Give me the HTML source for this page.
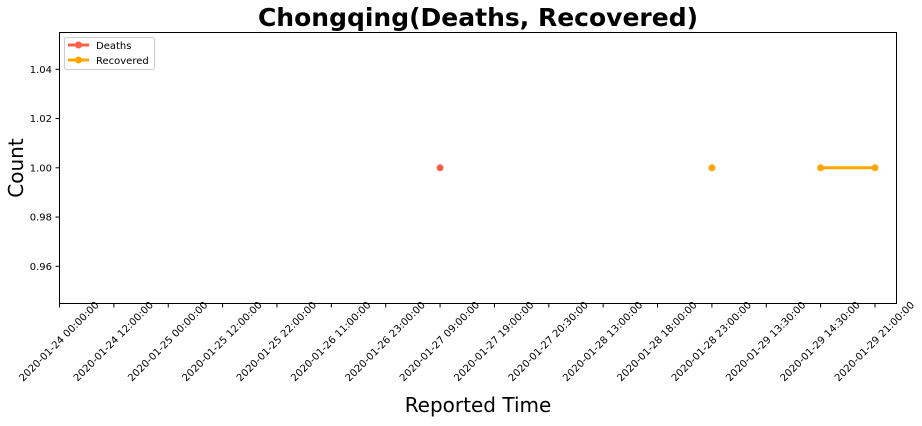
<!DOCTYPE html>
<html><head><meta charset="utf-8"><style>
body{margin:0;background:#fff;font-family:"DejaVu Sans","Liberation Sans",sans-serif}
svg text{font-family:"DejaVu Sans","Liberation Sans",sans-serif}
</style></head><body>
<svg id="c" width="922" height="422" xmlns="http://www.w3.org/2000/svg">
<rect width="922" height="422" fill="#fff"/>
<text x="478" y="26" text-anchor="middle" font-size="25" font-weight="bold">Chongqing(Deaths, Recovered)</text>
<text x="478" y="412" text-anchor="middle" font-size="20">Reported Time</text>
<text transform="translate(23,168) rotate(-90)" text-anchor="middle" font-size="20">Count</text>
<g id="ax"></g>
<g id="marks"></g>
<rect x="59.5" y="32.5" width="837" height="271" fill="none" stroke="#000" stroke-width="1"/>
<g>
<rect x="64.5" y="37.5" width="90" height="32" rx="2" fill="#fff" stroke="#ccc"/>
<g><line x1="68" y1="45" x2="89" y2="45" stroke="#ff5e47" stroke-width="3"/><circle cx="78.5" cy="45" r="3.5" fill="#ff5e47"/><text x="96" y="49" font-size="10">Deaths</text></g>
<g><line x1="68" y1="60" x2="89" y2="60" stroke="#ffa500" stroke-width="3"/><circle cx="78.5" cy="60" r="3.5" fill="#ffa500"/><text x="96" y="64" font-size="10">Recovered</text></g>
</g>
</svg>
<script>
const categories=["2020-01-24 00:00:00","2020-01-24 12:00:00","2020-01-25 00:00:00","2020-01-25 12:00:00","2020-01-25 22:00:00","2020-01-26 11:00:00","2020-01-26 23:00:00","2020-01-27 09:00:00","2020-01-27 19:00:00","2020-01-27 20:30:00","2020-01-28 13:00:00","2020-01-28 18:00:00","2020-01-28 23:00:00","2020-01-29 13:30:00","2020-01-29 14:30:00","2020-01-29 21:00:00"];
const deaths=[null,null,null,null,null,null,null,1,null,null,null,null,null,null,null,null];
const recovered=[null,null,null,null,null,null,null,null,null,null,null,null,1,null,1,1];
const yTicks=[0.96,0.98,1.00,1.02,1.04];
const NS="http://www.w3.org/2000/svg";
const xs=i=>59.5+i*(875-59.5)/15;
const ys=v=>167.8-(v-1)*(49.25/0.02);
const ax=document.getElementById('ax'),mk=document.getElementById('marks');
function el(t,a,p){const e=document.createElementNS(NS,t);for(const k in a)e.setAttribute(k,a[k]);p.appendChild(e);return e;}
categories.forEach((c,i)=>{
 const x=xs(i);
 const t=el('line',{x1:x,y1:303.5,x2:x,y2:307.5,stroke:'#000'},ax);
 
 
 const l=el('text',{transform:`translate(${x},${342}) rotate(-45)`,'text-anchor':'middle','dominant-baseline':'central','font-size':'10',textLength:'108',lengthAdjust:'spacingAndGlyphs'},ax);
 l.textContent=c;
 
 
});
yTicks.forEach(v=>{
 const y=ys(v);
 const t=el('line',{x1:55.5,y1:y,x2:59.5,y2:y,stroke:'#000'},ax);
 
 
 const l=el('text',{x:52,y:y+3.5,'text-anchor':'end','font-size':'10'},ax);
 l.textContent=v.toFixed(2);
 
 
});
function series(arr,color,name){
 for(let i=0;i<arr.length-1;i++){
  if(arr[i]!=null&&arr[i+1]!=null){
   const s=el('line',{x1:xs(i),y1:ys(arr[i]),x2:xs(i+1),y2:ys(arr[i+1]),stroke:color,'stroke-width':3},mk);
   
   
  }
 }
 arr.forEach((v,i)=>{
  if(v==null)return;
  const p=el('circle',{cx:xs(i),cy:ys(v),r:3.5,fill:color},mk);
  
  
 });
}
series(deaths,'#ff5e47','deaths');
series(recovered,'#ffa500','recovered');
</script>
</body></html>
